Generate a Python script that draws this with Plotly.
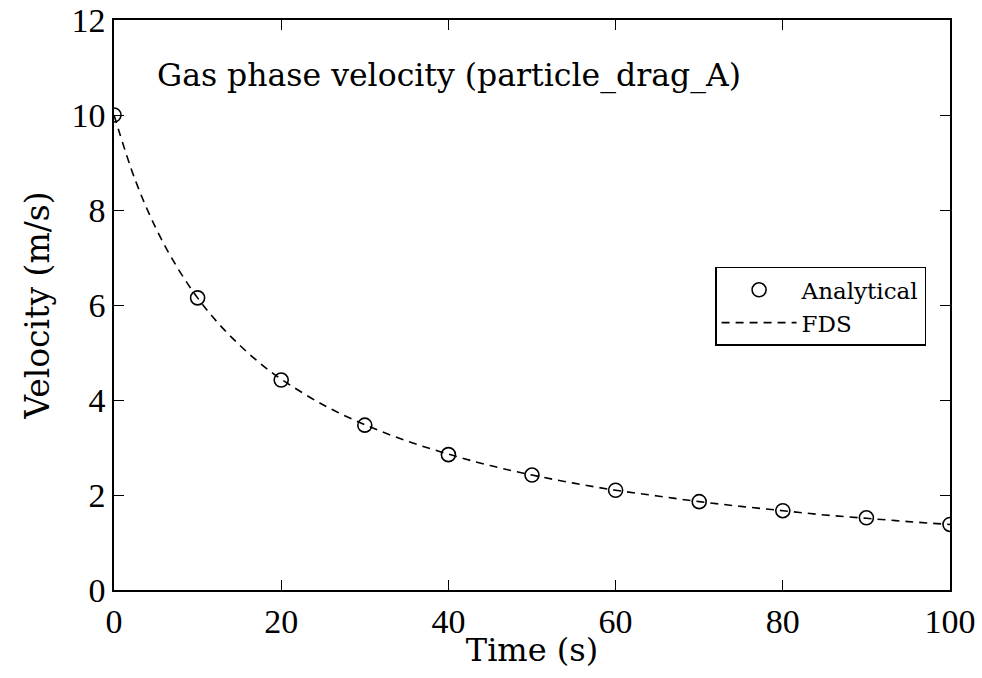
import plotly.graph_objects as go

# Analytical solution points
t_analytical = [0, 10, 20, 30, 40, 50, 60, 70, 80, 90, 100]
v_analytical = [10.0, 6.15, 4.42, 3.47, 2.85, 2.42, 2.10, 1.86, 1.67, 1.52, 1.38]

# FDS curve
t_fds = [0, 2.5, 5, 7.5, 10, 12.5, 15, 17.5, 20, 25, 30, 35, 40, 45, 50, 55, 60,
         65, 70, 75, 80, 85, 90, 95, 100]
v_fds = [10.0, 8.65, 7.62, 6.81, 6.15, 5.61, 5.16, 4.77, 4.44, 3.90, 3.48, 3.14,
         2.86, 2.62, 2.42, 2.25, 2.10, 1.98, 1.86, 1.76, 1.67, 1.58, 1.51, 1.44, 1.38]

x_ticks = [0, 20, 40, 60, 80, 100]
y_ticks = [0, 2, 4, 6, 8, 10, 12]

FONT = "Liberation Serif"
TFONT = "DejaVu Serif"

fig = go.Figure()
fig.add_trace(go.Scatter(
    x=t_analytical, y=v_analytical, mode="markers", name="Analytical",
    marker=dict(symbol="circle-open", size=14, color="black", line=dict(width=1.6, color="black")),
))
fig.add_trace(go.Scatter(
    x=t_fds, y=v_fds, mode="lines", name="FDS", line_shape="spline",
    line=dict(color="black", width=1.6, dash="8px,6px"),
))

axis_common = dict(
    showgrid=False, zeroline=False, showline=True, linecolor="black", linewidth=1.5,
    mirror="allticks", ticks="inside", ticklen=10, tickwidth=1.3, tickcolor="black",
    tickfont=dict(family=FONT, size=34, color="black"), automargin=False,
)

fig.update_xaxes(range=[0, 100], tickvals=x_ticks, ticktext=[str(v) for v in x_ticks],
                 title=dict(text="Time (s)", font=dict(family=TFONT, size=32, color="black"), standoff=0),
                 **axis_common)
fig.update_yaxes(range=[0, 12], tickvals=y_ticks, ticktext=[str(v) for v in y_ticks],
                 title=dict(text="Velocity (m/s)", font=dict(family=TFONT, size=33, color="black"), standoff=12),
                 **axis_common)

fig.add_annotation(x=4.9, y=10.84, xref="x", yref="y", text="Gas phase velocity (particle_drag_A)",
                   showarrow=False, xanchor="left", yanchor="middle",
                   font=dict(family=TFONT, size=31.5, color="black"))

fig.update_layout(
    width=982, height=678,
    margin=dict(l=114, r=32, t=20, b=88),
    paper_bgcolor="white", plot_bgcolor="white",
    showlegend=True,
    legend=dict(x=0.719, y=0.567, xanchor="left", yanchor="top",
                bgcolor="white", bordercolor="black", borderwidth=1.5,
                font=dict(family=TFONT, size=23, color="black"),
                itemwidth=75, tracegroupgap=0),
)

fig.write_html("out.html")
